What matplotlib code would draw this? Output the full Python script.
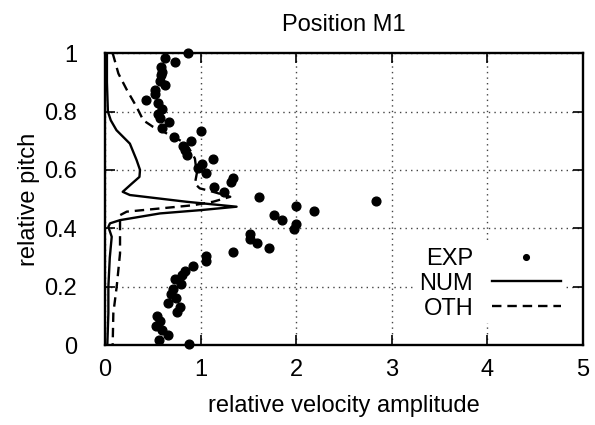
import matplotlib
matplotlib.use("Agg")
import matplotlib.pyplot as plt

plt.rcParams['font.family'] = ['Liberation Sans', 'DejaVu Sans']

# measured points (EXP)
exp_x = [0.87, 0.63, 0.73, 0.585, 0.60, 0.59, 0.57, 0.63, 0.52, 0.52, 0.43, 0.55, 0.60,
         0.55, 0.57, 0.67, 0.60, 1.006, 0.72, 0.895, 0.82, 0.836, 0.854, 1.13, 1.01, 0.975,
         1.06, 1.34, 1.32, 1.14, 1.24, 1.61, 2.00, 2.19, 2.83, 1.77, 1.85, 2.00, 1.98,
         1.515, 1.52, 1.585, 1.72, 1.34, 1.055, 1.055, 0.916, 0.836, 0.80, 0.73, 0.79,
         0.707, 0.69, 0.74, 0.655, 0.78, 0.755, 0.547, 0.58, 0.53, 0.60, 0.66, 0.565, 0.877]
exp_y = [1.0, 0.985, 0.968, 0.953, 0.936, 0.925, 0.905, 0.89, 0.873, 0.86, 0.841, 0.828, 0.808,
         0.793, 0.778, 0.764, 0.744, 0.732, 0.713, 0.70, 0.682, 0.668, 0.651, 0.637, 0.62, 0.605,
         0.588, 0.574, 0.559, 0.542, 0.525, 0.508, 0.477, 0.46, 0.493, 0.445, 0.428, 0.414, 0.397,
         0.382, 0.365, 0.350, 0.333, 0.320, 0.305, 0.288, 0.27, 0.255, 0.24, 0.225, 0.209,
         0.191, 0.175, 0.16, 0.145, 0.129, 0.114, 0.099, 0.083, 0.066, 0.051, 0.034, 0.019, 0.003]

# numerical result (NUM)
num_x = [0.02, 0.02, 0.03, 0.06, 0.12, 0.26, 0.33, 0.366, 0.36, 0.28, 0.185, 0.26, 0.85,
         1.376, 0.99, 0.575, 0.157, 0.052, 0.035, 0.07, 0.05, 0.035, 0.035, 0.024]
num_y = [1.0, 0.9, 0.8, 0.77, 0.736, 0.69, 0.634, 0.60, 0.576, 0.553, 0.525, 0.514, 0.491,
         0.474, 0.462, 0.451, 0.428, 0.417, 0.405, 0.371, 0.30, 0.20, 0.11, 0.0]

# other result (OTH)
oth_x = [0.08, 0.14, 0.23, 0.33, 0.40, 0.50, 0.645, 0.85, 0.94, 0.96, 0.94, 0.99, 1.13,
         1.31, 1.13, 0.92, 0.575, 0.227, 0.157, 0.157, 0.157, 0.122, 0.087, 0.08]
oth_y = [1.0, 0.93, 0.873, 0.816, 0.77, 0.748, 0.725, 0.69, 0.639, 0.588, 0.553, 0.537, 0.525,
         0.508, 0.491, 0.479, 0.468, 0.457, 0.445, 0.405, 0.314, 0.2, 0.109, 0.0]

fs = 17

fig = plt.figure(figsize=(5.95, 4.25), dpi=100)
ax = fig.add_axes([0.1765, 0.188, 0.8035, 0.687])

ax.plot(exp_x, exp_y, 'o', color='black', markersize=6.3, label='EXP', clip_on=False, zorder=4)
ax.plot(num_x, num_y, '-', color='black', lw=1.7, label='NUM', zorder=3)
ax.plot(oth_x, oth_y, '--', color='black', lw=1.7, dashes=(4, 2.5), label='OTH', zorder=3)

ax.set_xlim(0, 5)
ax.set_ylim(0, 1)
ax.set_xticks([0, 1, 2, 3, 4, 5])
ax.set_xticklabels(['0', '1', '2', '3', '4', '5'])
ax.set_yticks([0, 0.2, 0.4, 0.6, 0.8, 1])
ax.set_yticklabels(['0', '0.2', '0.4', '0.6', '0.8', '1'])
ax.tick_params(direction='in', length=7, width=1.2, top=True, right=True, labelsize=fs)
ax.tick_params(axis='x', pad=10)
ax.tick_params(axis='y', pad=20)
ax.grid(True, linestyle=(0, (1, 3)), color='#444444', lw=1)
for s in ax.spines.values():
    s.set_linewidth(1.7)

ax.set_xlabel('relative velocity amplitude', fontsize=fs, labelpad=10)
ax.set_ylabel('relative pitch', fontsize=fs, labelpad=3)
ax.set_title('Position M1', fontsize=fs, pad=16)

leg = ax.legend(loc='lower right', bbox_to_anchor=(0.985, 0.035), markerfirst=False,
                frameon=True, fancybox=False, edgecolor='none', facecolor='white', framealpha=1,
                fontsize=fs, handlelength=2.9, handletextpad=0.8, labelspacing=0.12,
                markerscale=0.65, borderpad=0.15)

fig.savefig('out.png', dpi=100)
